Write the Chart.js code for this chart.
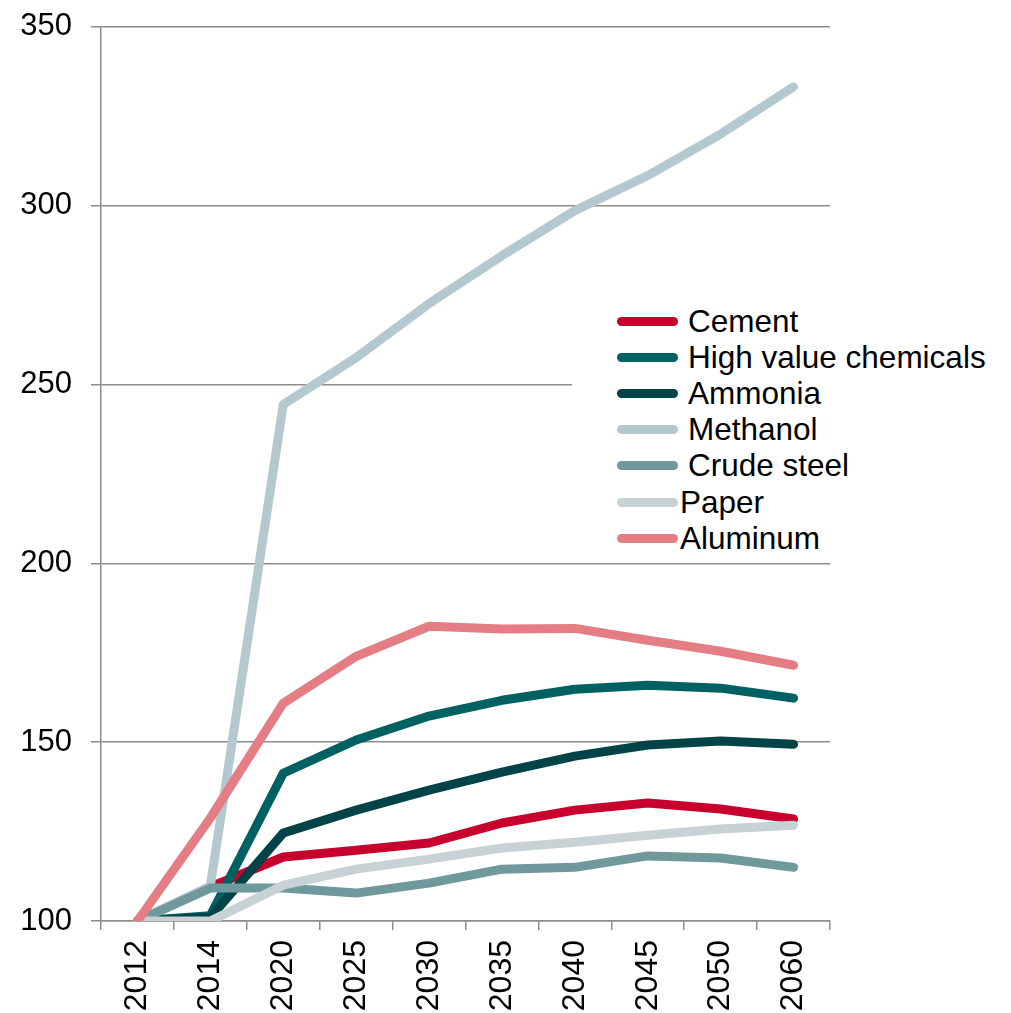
<!DOCTYPE html>
<html>
<head>
<meta charset="utf-8">
<script src="https://cdn.jsdelivr.net/npm/chart.js@4.4.1/dist/chart.umd.min.js"></script>
<style>
    html, body { margin: 0; padding: 0; background: #ffffff; }
    #wrap { position: relative; width: 1011px; height: 1013px; }
    #legend {
        position: absolute;
        left: 572px;
        top: 303px;
        width: 430px;
        height: 254px;
        background: #ffffff;
        font-family: 'Liberation Sans', Arial, sans-serif;
        font-size: 31.5px;
        color: #000000;
    }
    .item { position: absolute; left: 45px; height: 36px; display: flex; align-items: center; }
    .swatch { width: 61px; height: 9px; border-radius: 5px; margin-right: 10px; }
    .item.tight .swatch { margin-right: 2px; }
</style>
</head>
<body>
<div id="wrap">
    <canvas id="chart" width="1011" height="1013"></canvas>
    <div id="legend"></div>
</div>
<script>
// Index, 2012 = 100
const years = ['2012', '2014', '2020', '2025', '2030', '2035', '2040', '2045', '2050', '2060'];

const cement     = [100, 109.5, 117.9, 119.8, 121.8, 127.4, 131.0, 133.0, 131.3, 128.5];
const hvc        = [100, 101.5, 141.3, 150.6, 157.3, 161.7, 164.8, 165.9, 165.1, 162.3];
const ammonia    = [100, 101.0, 124.6, 131.0, 136.6, 141.6, 146.1, 149.2, 150.3, 149.4];
const methanol   = [100, 109.8, 244.4, 257.5, 272.6, 286.0, 298.6, 308.4, 320.0, 333.2];
const crudeSteel = [100, 109.2, 109.2, 107.8, 110.6, 114.5, 115.0, 118.2, 117.6, 115.0];
const paper      = [100, 100.0, 110.0, 114.5, 117.3, 120.4, 122.0, 124.0, 125.7, 126.8];
const aluminum   = [100, 128.8, 160.9, 174.0, 182.4, 181.6, 181.8, 178.5, 175.4, 171.5];

const yTicks = [100, 150, 200, 250, 300, 350];

// legend order (as in the original), later entries drawn on top
const series = [
    { label: 'Cement', data: cement, color: '#c8002d' },
    { label: 'High value chemicals', data: hvc, color: '#006162' },
    { label: 'Ammonia', data: ammonia, color: '#014448' },
    { label: 'Methanol', data: methanol, color: '#b4c8d0' },
    { label: 'Crude steel', data: crudeSteel, color: '#6f999d' },
    { label: 'Paper', data: paper, color: '#c8d1d3' },
    { label: 'Aluminum', data: aluminum, color: '#e57d85' }
];

const FONT = "'Liberation Sans', Arial, sans-serif";
const GRID = '#8c8c8c';

// Chart.js draws dataset 0 on top, so reverse
const datasets = series.slice().reverse().map(s => ({
    label: s.label,
    data: s.data,
    borderColor: s.color,
    backgroundColor: s.color,
    borderWidth: 9,
    borderCapStyle: 'round',
    borderJoinStyle: 'round',
    pointRadius: 0,
    pointHoverRadius: 0,
    tension: 0,
    fill: false
}));

new Chart(document.getElementById('chart'), {
    type: 'line',
    data: { labels: years, datasets: datasets },
    options: {
        responsive: false,
        animation: false,
        layout: { padding: { left: 0, right: 181, top: 26, bottom: 0 } },
        plugins: {
            legend: { display: false },
            tooltip: { enabled: false }
        },
        scales: {
            x: {
                type: 'category',
                offset: true,
                grid: {
                    offset: true,
                    drawOnChartArea: false,
                    drawTicks: true,
                    tickLength: 9,
                    color: GRID,
                    lineWidth: 1.5
                },
                border: { display: true, color: GRID, width: 1.5 },
                ticks: {
                    color: '#000000',
                    font: { family: FONT, size: 32 },
                    maxRotation: 90,
                    minRotation: 90,
                    autoSkip: false,
                    padding: 10
                },
                afterFit: scale => { scale.height = 92; }
            },
            y: {
                min: 100,
                max: 350,
                afterBuildTicks: scale => {
                    scale.ticks = yTicks.map(v => ({ value: v }));
                },
                grid: {
                    color: GRID,
                    lineWidth: 1.5,
                    drawTicks: true,
                    tickLength: 10
                },
                border: { display: true, color: GRID, width: 1.5 },
                ticks: {
                    color: '#000000',
                    // small lineHeight so the top label does not push the plot down
                    font: { family: FONT, size: 31, lineHeight: 0.5 },
                    padding: 19
                },
                afterFit: scale => { scale.width = 101; }
            }
        }
    }
});

// legend overlay with white box (covers the 250 gridline like the original)
const legendEl = document.getElementById('legend');
series.forEach((s, i) => {
    const item = document.createElement('div');
    item.className = 'item' + (i >= 5 ? ' tight' : '');
    item.style.top = (i * 36.2) + 'px';
    const sw = document.createElement('span');
    sw.className = 'swatch';
    sw.style.background = s.color;
    const tx = document.createElement('span');
    tx.textContent = s.label;
    item.appendChild(sw);
    item.appendChild(tx);
    legendEl.appendChild(item);
});
</script>
</body>
</html>
